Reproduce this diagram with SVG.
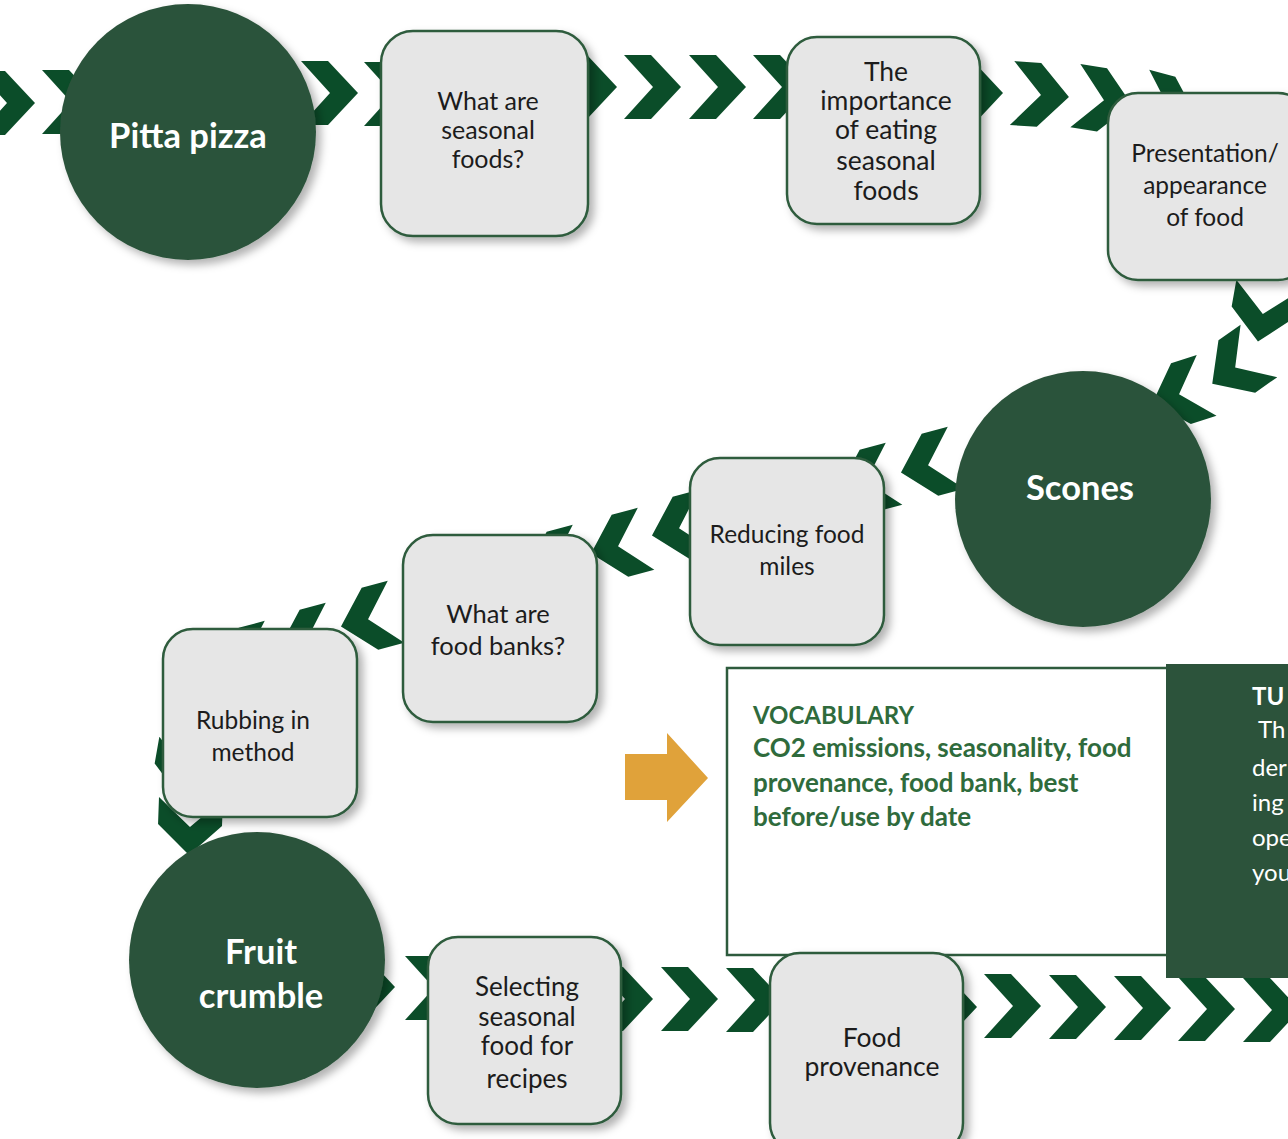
<svg xmlns="http://www.w3.org/2000/svg" xmlns:xlink="http://www.w3.org/1999/xlink" width="1288" height="1139" viewBox="0 0 1288 1139">
<style>
.chev{fill:#0b4d29}
.box{fill:#e6e6e6;stroke:#2e5b3d;stroke-width:2.5}
.circ{fill:#2c533b}
.bt{font-family:Lato,"Open Sans",sans-serif;font-weight:400;fill:#1c1c1c;text-anchor:middle}
.ct{font-family:Lato,"Open Sans",sans-serif;font-weight:700;fill:#ffffff;text-anchor:middle;font-size:34.5px}
.vt{font-family:Lato,"Open Sans",sans-serif;font-weight:700;fill:#2f6b3c;font-size:26px}
.tt{font-family:Lato,"Open Sans",sans-serif;fill:#ffffff;font-size:24px}
</style>
<defs>
<path id="chev" d="M-28,-32 L-1,-32 L29,0 L-1,32 L-28,32 L1,0 Z"/>
<filter id="sh" x="-20%" y="-20%" width="150%" height="150%">
<feDropShadow dx="5" dy="5" stdDeviation="4" flood-color="#000" flood-opacity="0.3"/>
</filter>
</defs>
<rect width="1288" height="1139" fill="#ffffff"/>
<g id="connectors" class="chev">
<use href="#chev" transform="translate(6,103)"/>
<use href="#chev" transform="translate(70,102)"/>
<use href="#chev" transform="translate(329,93)"/>
<use href="#chev" transform="translate(392,94)"/>
<use href="#chev" transform="translate(588,87)"/>
<use href="#chev" transform="translate(652,87)"/>
<use href="#chev" transform="translate(717,87)"/>
<use href="#chev" transform="translate(781,87)"/>
<use href="#chev" transform="translate(974,93)"/>
<use href="#chev" transform="translate(1040,95) rotate(4)"/>
<use href="#chev" transform="translate(1103,100) rotate(9)"/>
<use href="#chev" transform="translate(1168,108) rotate(15)"/>
<use href="#chev" transform="translate(1263,313) rotate(100)"/>
<use href="#chev" transform="translate(1236,367) rotate(145)"/>
<use href="#chev" transform="translate(1180,394) rotate(162)"/>
<use href="#chev" transform="translate(929,465) rotate(165)"/>
<use href="#chev" transform="translate(867,481) rotate(165)"/>
<use href="#chev" transform="translate(680,528) rotate(165)"/>
<use href="#chev" transform="translate(619,546) rotate(165)"/>
<use href="#chev" transform="translate(554,563) rotate(165)"/>
<use href="#chev" transform="translate(369,619) rotate(165)"/>
<use href="#chev" transform="translate(307,641) rotate(165)"/>
<use href="#chev" transform="translate(246,659) rotate(165)"/>
<use href="#chev" transform="translate(186,770) rotate(100)"/>
<use href="#chev" transform="translate(190,826) rotate(92)"/>
<use href="#chev" transform="translate(366,987)"/>
<use href="#chev" transform="translate(433,988)"/>
<use href="#chev" transform="translate(624,999)"/>
<use href="#chev" transform="translate(689,999)"/>
<use href="#chev" transform="translate(754,1000)"/>
<use href="#chev" transform="translate(948,1007)"/>
<use href="#chev" transform="translate(1012,1006)"/>
<use href="#chev" transform="translate(1077,1007)"/>
<use href="#chev" transform="translate(1142,1008)"/>
<use href="#chev" transform="translate(1206,1009)"/>
<use href="#chev" transform="translate(1271,1010)"/>
</g>
<g id="node-pitta">
<circle class="circ" cx="188" cy="132" r="128" filter="url(#sh)"/>
<text class="ct" x="188" y="148">Pitta pizza</text>
</g>
<g id="node-seasonal-foods">
<rect class="box" x="381" y="31" width="207" height="205" rx="32" filter="url(#sh)"/>
<text class="bt" font-size="25" x="488"><tspan x="488" y="110">What are</tspan><tspan x="488" y="139">seasonal</tspan><tspan x="488" y="168">foods?</tspan></text>
</g>
<g id="node-importance">
<rect class="box" x="787" y="37" width="193" height="187" rx="30" filter="url(#sh)"/>
<text class="bt" font-size="26.5" x="886"><tspan x="886" y="81">The</tspan><tspan x="886" y="110">importance</tspan><tspan x="886" y="139">of eating</tspan><tspan x="886" y="170">seasonal</tspan><tspan x="886" y="200">foods</tspan></text>
</g>
<g id="node-presentation">
<rect class="box" x="1108" y="93" width="200" height="187" rx="30" filter="url(#sh)"/>
<text class="bt" font-size="24.5" x="1205"><tspan x="1205" y="162">Presentation/</tspan><tspan x="1205" y="194">appearance</tspan><tspan x="1205" y="226">of food</tspan></text>
</g>
<g id="node-scones">
<circle class="circ" cx="1083" cy="499" r="128" filter="url(#sh)"/>
<text class="ct" x="1080" y="500">Scones</text>
</g>
<g id="node-food-miles">
<rect class="box" x="690" y="458" width="194" height="187" rx="30" filter="url(#sh)"/>
<text class="bt" font-size="24.5" x="787"><tspan x="787" y="543">Reducing food</tspan><tspan x="787" y="575">miles</tspan></text>
</g>
<g id="node-food-banks">
<rect class="box" x="403" y="535" width="194" height="187" rx="30" filter="url(#sh)"/>
<text class="bt" font-size="25.5" x="498"><tspan x="498" y="623">What are</tspan><tspan x="498" y="655">food banks?</tspan></text>
</g>
<g id="node-rubbing">
<rect class="box" x="163" y="629" width="194" height="188" rx="30" filter="url(#sh)"/>
<text class="bt" font-size="24.5" x="253"><tspan x="253" y="729">Rubbing in</tspan><tspan x="253" y="761">method</tspan></text>
</g>
<g id="node-crumble">
<circle class="circ" cx="257" cy="960" r="128" filter="url(#sh)"/>
<text class="ct" x="261"><tspan x="261" y="964">Fruit</tspan><tspan x="261" y="1008">crumble</tspan></text>
</g>
<g id="node-selecting">
<rect class="box" x="428" y="937" width="193" height="187" rx="30" filter="url(#sh)"/>
<text class="bt" font-size="26" x="527"><tspan x="527" y="996">Selecting</tspan><tspan x="527" y="1026">seasonal</tspan><tspan x="527" y="1055">food for</tspan><tspan x="527" y="1088">recipes</tspan></text>
</g>
<g id="node-vocabulary">
<rect x="727" y="668" width="450" height="287" fill="#ffffff" stroke="#2e5b3d" stroke-width="2.5"/>
<text class="vt" x="753"><tspan x="753" y="724" font-size="24">VOCABULARY</tspan><tspan x="753" y="757">CO2 emissions, seasonality, food</tspan><tspan x="753" y="792">provenance, food bank, best</tspan><tspan x="753" y="826">before/use by date</tspan></text>
</g>
<g id="node-provenance">
<rect class="box" x="770" y="953" width="193" height="200" rx="30" filter="url(#sh)"/>
<text class="bt" font-size="26.5" x="872"><tspan x="872" y="1047">Food</tspan><tspan x="872" y="1076">provenance</tspan></text>
</g>
<g id="node-tu">
<rect x="1166" y="664" width="130" height="314" fill="#2c533b"/>
<text class="tt"><tspan x="1252" y="705" font-weight="700">TU</tspan><tspan x="1258" y="738">Th</tspan><tspan x="1252" y="776">der</tspan><tspan x="1252" y="811">ing</tspan><tspan x="1252" y="846">ope</tspan><tspan x="1252" y="881">you</tspan></text>
</g>
<g id="arrow">
<polygon points="625,754 667,754 667,733 708,778 667,822 667,800 625,800" fill="#e0a23a"/>
</g>
</svg>
